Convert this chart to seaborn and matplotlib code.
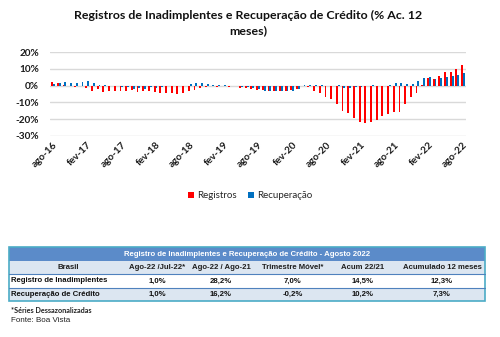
import matplotlib
matplotlib.use("Agg")
import matplotlib.pyplot as plt
from matplotlib.patches import Rectangle
import seaborn as sns
import pandas as pd

# ---------------- data ----------------
meses_abrev = ["jan", "fev", "mar", "abr", "mai", "jun", "jul", "ago", "set", "out", "nov", "dez"]
meses = []
for ano in range(16, 23):
    for m in meses_abrev:
        meses.append(f"{m}-{ano}")
meses = meses[meses.index("ago-16"): meses.index("ago-22") + 1]

registros = [2.0, 1.5, 0.5, -0.5, -1.0, -0.5, -1.5, -3.0, -2.0, -4.0, -3.0, -3.0,
             -3.0, -3.0, -2.5, -4.0, -3.5, -3.5, -4.0, -4.5, -4.5, -4.5, -5.0, -4.5,
             -3.5, -2.5, -1.5, -1.0, -0.5, -1.0, -0.5, -1.0, -0.5, -1.5, -1.5, -2.0,
             -2.5, -2.5, -3.0, -3.0, -3.0, -3.0, -2.5, -2.0, -0.5, -1.0, -3.5, -4.7,
             -7.0, -7.8, -11.0, -15.3, -16.3, -19.0, -21.6, -22.0, -21.8, -20.6, -18.0, -17.0,
             -16.0, -15.5, -11.0, -6.7, -4.3, 0.3, 4.5, 4.0, 6.0, 7.8, 7.8, 9.8,
             12.3]
recuperacao = [1.0, 1.5, 2.0, 1.5, 1.5, 2.0, 3.0, 1.5, 0.5, 0.3, -0.5, -0.5,
               -1.0, -1.0, -2.0, -1.5, -2.0, -1.0, -1.5, -1.0, -0.5, -0.5, -0.5, -0.5,
               1.0, 1.8, 1.5, 0.8, 0.5, 0.3, 0.3, -0.3, -0.3, -1.0, -1.0, -1.5,
               -2.0, -3.0, -3.5, -3.5, -3.5, -3.0, -3.0, -2.0, 0.5, 0.5, 0.5, 0.5,
               0.0, 0.0, 0.5, -1.5, -1.5, -1.0, -1.0, 0.0, 0.3, 0.0, 0.0, 0.5,
               1.5, 1.5, 1.0, 1.0, 3.0, 4.5, 5.0, 4.0, 4.5, 5.0, 5.7, 6.5,
               7.3]
series = ["Registros", "Recuperação"]
cores = ["#FF0000", "#0070C0"]
ytick_vals = [-30, -20, -10, 0, 10, 20]

tab_titulo = "Registro de Inadimplentes e Recuperação de Crédito - Agosto 2022"
tab_colunas = ["Brasil", "Ago-22 /Jul-22*", "Ago-22 / Ago-21", "Trimestre Móvel*", "Acum 22/21", "Acumulado 12 meses"]
tab_linhas = ["Registro de Inadimplentes", "Recuperação de Crédito"]
tab_registros = ["1,0%", "28,2%", "7,0%", "14,5%", "12,3%"]
tab_recuperacao = ["1,0%", "16,2%", "-0,2%", "10,2%", "7,3%"]
nota = "*Séries Dessazonalizadas"
fonte = "Fonte: Boa Vista"

# ---------------- style ----------------
sns.set_theme(style="white")
plt.rcParams["font.family"] = ["Lato", "DejaVu Sans"]

W, H = 500, 337
fig = plt.figure(figsize=(W / 100, H / 100), dpi=100)

df = pd.DataFrame({
    "mes": meses * 2,
    "serie": [series[0]] * len(meses) + [series[1]] * len(meses),
    "valor": registros + recuperacao,
})

# axes in pixel layout
left_px, right_px, top_px, bot_px = 50.2, 465.9, 52, 136
ax = fig.add_axes([left_px / W, 1 - bot_px / H, (right_px - left_px) / W, (bot_px - top_px) / H])
sns.barplot(data=df, x="mes", y="valor", hue="serie", order=meses, hue_order=series,
            palette=cores, width=0.66, ax=ax, saturation=1, errorbar=None, linewidth=0)
ax.set_xlim(-0.5, len(meses) - 0.5)
ax.set_ylim(-30, 20)
ax.set_yticks(ytick_vals)
ax.set_yticklabels([f"{v}%" for v in ytick_vals], fontsize=7.2, fontweight="bold", color="#1a1a1a")
ax.set_xticks(range(0, len(meses), 6))
ax.set_xticklabels(meses[::6], rotation=45, ha="right", rotation_mode="anchor",
                   fontsize=7.2, fontweight="bold", color="#1a1a1a")
ax.tick_params(axis="both", length=0)
ax.tick_params(axis="y", pad=8)
ax.tick_params(axis="x", pad=3)
ax.set_xlabel("")
ax.set_ylabel("")
ax.yaxis.grid(True, color="#d9d9d9", lw=1)
ax.set_axisbelow(True)
for s in ax.spines.values():
    s.set_visible(False)
ax.patch.set_alpha(0)

handles, labels = ax.get_legend_handles_labels()
ax.legend(handles, labels, loc="center", bbox_to_anchor=(250 / W, 1 - 196 / H),
          bbox_transform=fig.transFigure, ncol=2, frameon=False, handlelength=0.65,
          handleheight=0.65, handletextpad=0.25, columnspacing=1.2, fontsize=7.0)

# title
fig.text(248 / W, 1 - 15 / H, "Registros de Inadimplentes e Recuperação de Crédito (% Ac. 12",
         ha="center", va="center", fontsize=8.9, fontweight="bold", color="#111111")
fig.text(248 / W, 1 - 31 / H, "meses)", ha="center", va="center", fontsize=8.9,
         fontweight="bold", color="#111111")

# ---------------- table ----------------
tx = fig.add_axes([0, 0, 1, 1])
tx.set_xlim(0, W)
tx.set_ylim(H, 0)
tx.axis("off")
tx.patch.set_alpha(0)

x0, x1 = 9, 485
rows_y = [247, 261, 274, 288, 301]
fills = ["#5B8BC9", "#DCE6F1", "#FFFFFF", "#DCE6F1"]
for i, f in enumerate(fills):
    tx.add_patch(Rectangle((x0, rows_y[i]), x1 - x0, rows_y[i + 1] - rows_y[i],
                           facecolor=f, edgecolor="none"))
for yl in rows_y[2:4]:
    tx.plot([x0, x1], [yl, yl], color="#4F81BD", lw=0.8)
tx.add_patch(Rectangle((x0, rows_y[0]), x1 - x0, rows_y[-1] - rows_y[0],
                       facecolor="none", edgecolor="#4BACC6", lw=1.2))

tfont = dict(family=["Liberation Sans", "DejaVu Sans"], fontsize=5.6, fontweight="bold")
col_x = [68, 157, 221, 293, 363, 442]
tx.text((x0 + x1) / 2, 254, tab_titulo, ha="center", va="center", color="white", **tfont)
for cx, c in zip(col_x, tab_colunas):
    tx.text(cx, 267.5, c, ha="center", va="center", color="#1F1F1F", **tfont)
for ry, nome, vals in [(281, tab_linhas[0], tab_registros), (294.5, tab_linhas[1], tab_recuperacao)]:
    tx.text(11, ry, nome, ha="left", va="center", color="#111111", **tfont)
    for cx, v in zip(col_x[1:], vals):
        tx.text(cx, ry, v, ha="center", va="center", color="#111111", **tfont)

tx.text(11, 310.5, nota, ha="left", va="center", color="#222222",
        family=["Lato", "DejaVu Sans"], fontsize=5.2, fontweight="bold")
tx.text(11, 321, fonte, ha="left", va="center", color="#222222",
        family=["Liberation Sans", "DejaVu Sans"], fontsize=5.8)

fig.savefig("out.png", dpi=100)
